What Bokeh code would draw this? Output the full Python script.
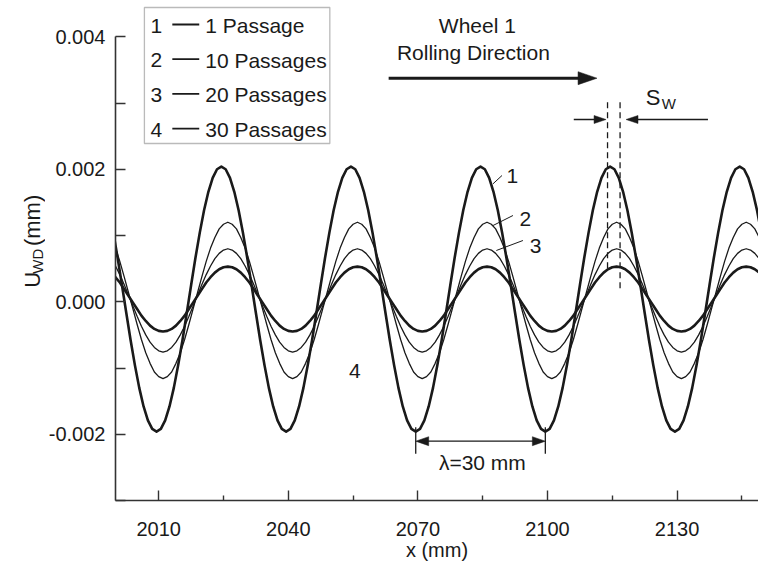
import math
from bokeh.plotting import figure
from bokeh.layouts import row
from bokeh.models import Range1d, FixedTicker, PrintfTickFormatter, Label, BoxAnnotation
from bokeh.core.properties import value
from bokeh.embed import file_html
from bokeh.resources import INLINE

# ---------------- data ----------------
x_ticks = [2010, 2040, 2070, 2100, 2130]
x_minor_ticks = [2025, 2055, 2085, 2115, 2145]
y_ticks = [-0.002, 0.0, 0.002, 0.004]
y_minor_ticks = [-0.003, -0.001, 0.001, 0.003]

period_mm = 30.0          # lambda = 30 mm
peak_x_1_passage = 2024.5  # x of a crest of curve 1
peak_x_later = 2026.0      # x of a crest of curves 2-4

# U_WD (mm) over one wavelength, 1 mm apart, starting at a crest
u_1_passage = [0.00204, 0.00200, 0.00187, 0.00166, 0.00138, 0.00104, 0.00066, 0.00025, -0.00017, -0.00058,
               -0.00096, -0.00130, -0.00158, -0.00179, -0.00192, -0.00196, -0.00192, -0.00179, -0.00158, -0.00130,
               -0.00096, -0.00058, -0.00017, 0.00025, 0.00066, 0.00104, 0.00138, 0.00166, 0.00187, 0.00200]
u_10_passages = [0.00120, 0.00117, 0.00110, 0.00097, 0.00081, 0.00061, 0.00038, 0.00014, -0.00010, -0.00034,
                 -0.00057, -0.00077, -0.00093, -0.00106, -0.00113, -0.00116, -0.00113, -0.00106, -0.00093, -0.00077,
                 -0.00057, -0.00034, -0.00010, 0.00014, 0.00038, 0.00061, 0.00081, 0.00097, 0.00110, 0.00117]
u_20_passages = [0.00080, 0.00078, 0.00073, 0.00065, 0.00054, 0.00041, 0.00026, 0.00010, -0.00006, -0.00022,
                 -0.00037, -0.00050, -0.00061, -0.00069, -0.00074, -0.00076, -0.00074, -0.00069, -0.00061, -0.00050,
                 -0.00037, -0.00022, -0.00006, 0.00010, 0.00026, 0.00041, 0.00054, 0.00065, 0.00073, 0.00078]
u_30_passages = [0.00053, 0.00052, 0.00049, 0.00044, 0.00037, 0.00029, 0.00019, 0.00009, -0.00001, -0.00011,
                 -0.00021, -0.00029, -0.00036, -0.00041, -0.00044, -0.00045, -0.00044, -0.00041, -0.00036, -0.00029,
                 -0.00021, -0.00011, -0.00001, 0.00009, 0.00019, 0.00029, 0.00037, 0.00044, 0.00049, 0.00052]

series_ids = ["1", "2", "3", "4"]
series_names = ["1 Passage", "10 Passages", "20 Passages", "30 Passages"]
series_values = [u_1_passage, u_10_passages, u_20_passages, u_30_passages]
series_peaks = [peak_x_1_passage, peak_x_later, peak_x_later, peak_x_later]
series_widths = [2.6, 1.3, 1.3, 2.6]

# ---------------- layout ----------------
W, H = 758, 564
LW = 45                                # width of the strip holding the y-axis title
FL, FR, FT, FB = 113, 758, 0, 500     # frame edges in page pixels
x_lo, x_hi = 2000.0, 2000.0 + (FR - FL) * period_mm / 130.0
y_lo = -0.003
y_hi = y_lo + (FB - FT) * 0.002 / 132.5

def X(px):
    return x_lo + (px - FL) * (x_hi - x_lo) / (FR - FL)

def Y(py):
    return y_hi - (py - FT) * (y_hi - y_lo) / (FB - FT)

def PX(x):
    return FL + (x - x_lo) * (FR - FL) / (x_hi - x_lo)

FONT = "Liberation Sans"
INK = "#1a1a1a"

p = figure(width=W - LW, height=H, x_range=Range1d(x_lo, x_hi), y_range=Range1d(y_lo, y_hi),
           output_backend="svg", toolbar_location=None,
           min_border_left=FL - LW, min_border_right=W - FR, min_border_top=FT, min_border_bottom=H - FB)
p.xgrid.visible = False
p.ygrid.visible = False
p.outline_line_color = None
p.background_fill_color = "white"
p.border_fill_color = "white"

for ax in (p.xaxis[0], p.yaxis[0]):
    ax.axis_line_width = 1.6
    ax.axis_line_color = "#333333"
    ax.major_tick_line_color = "#333333"
    ax.minor_tick_line_color = "#333333"
    ax.major_tick_line_width = 1.4
    ax.minor_tick_line_width = 1.4
    ax.major_tick_in = 10
    ax.major_tick_out = 0
    ax.minor_tick_out = 0
    ax.major_label_text_font = FONT
    ax.major_label_text_font_size = "20px"
    ax.major_label_text_color = INK

p.xaxis.ticker = FixedTicker(ticks=x_ticks, minor_ticks=x_minor_ticks)
p.xaxis.minor_tick_in = 5
p.xaxis.major_label_standoff = 21
p.xaxis.axis_label = "x (mm)"
p.xaxis.axis_label_text_font = FONT
p.xaxis.axis_label_text_font_size = "20px"
p.xaxis.axis_label_text_font_style = "normal"
p.xaxis.axis_label_text_color = INK
p.xaxis.axis_label_standoff = 0

p.yaxis.ticker = FixedTicker(ticks=y_ticks, minor_ticks=y_minor_ticks)
p.yaxis.formatter = PrintfTickFormatter(format="%.3f")
p.yaxis.bounds = (y_minor_ticks[0], y_ticks[-1])
p.yaxis.minor_tick_in = 10
p.yaxis.major_label_standoff = 10

# ---------------- curves ----------------
for vals, peak, lw in zip(series_values, series_peaks, series_widths):
    xs, ys = [], []
    for k in range(-2, 5):
        for i, v in enumerate(vals):
            xs.append(peak + k * period_mm + i)
            ys.append(v)
    p.line(xs, ys, line_color=INK, line_width=lw, line_join="round")

# ---------------- helpers for annotations ----------------
def lbl(px, py, text, size="21px", align="left", baseline="middle", angle=0.0):
    p.add_layout(Label(x=X(px), y=Y(py), text=text, text_font=FONT, text_font_size=size,
                       text_color=INK, text_align=align, text_baseline=baseline, angle=angle))

def seg(px0, py0, px1, py1, lw=1.3, dash="solid"):
    p.segment(x0=[X(px0)], y0=[Y(py0)], x1=[X(px1)], y1=[Y(py1)], line_color=INK,
              line_width=lw, line_dash=dash)

def head(tip_px, tip_py, direction, length, half):
    bx = tip_px - direction * length
    p.patch([X(tip_px), X(bx), X(bx)], [Y(tip_py), Y(tip_py - half), Y(tip_py + half)],
            fill_color=INK, line_color=INK, line_width=0.5)

# ---------------- legend ----------------
p.add_layout(BoxAnnotation(left=X(142), right=X(328), top=Y(7), bottom=Y(143),
                           fill_alpha=0, line_color=INK, line_width=1.3))
for i, (sid, name) in enumerate(zip(series_ids, series_names)):
    ry = 24 + 34.7 * i
    lbl(148, ry + 1, sid)
    seg(170, ry, 197, ry, lw=1.8)
    lbl(203, ry + 1, name)

# ---------------- rolling direction ----------------
lbl(476, 25, "Wheel 1", align="center")
lbl(472, 52, "Rolling Direction", align="center")
seg(387, 77.7, 580, 77.7, lw=3)
head(596, 77.7, 1, 19, 6.5)

# ---------------- S_W ----------------
for xd, yend in ((2113.9, 270), (2116.8, 290)):
    seg(PX(xd), 101.7, PX(xd), yend, lw=1.3, dash="6 4")
seg(572.7, 119, 596, 119, lw=1.3)
head(PX(2113.9) - 1.5, 119, 1, 12, 4)
seg(707.3, 119, 636, 119, lw=1.3)
head(PX(2116.8) + 6, 119, -1, 12, 4)
lbl(645, 97, "S", size="22px")
lbl(661, 103, "W", size="15px")

# ---------------- lambda ----------------
tr1, tr2 = 2069.5, 2099.5
seg(PX(tr1), 426.7, PX(tr1), 453.3, lw=1.3)
seg(PX(tr2), 426.7, PX(tr2), 453.3, lw=1.3)
seg(PX(tr1) + 10, 440.7, PX(tr2) - 10, 440.7, lw=1.3)
head(PX(tr1), 440.7, -1, 13, 4.5)
head(PX(tr2), 440.7, 1, 13, 4.5)
lbl(481, 462, "\u03bb=30 mm", align="center")

# ---------------- curve labels ----------------
lbl(511, 175, "1", align="center")
seg(500.7, 175, 491.7, 183.3, lw=1)
lbl(524, 218, "2", align="center")
seg(511.7, 215, 491.7, 225, lw=1)
lbl(534.5, 245, "3", align="center")
seg(521.7, 240, 495, 250, lw=1)
lbl(353, 370, "4", align="center")

# ---------------- y-axis title strip: U_WD (mm) ----------------
q = figure(width=LW, height=H, x_range=Range1d(0, LW), y_range=Range1d(0, H),
           output_backend="svg", toolbar_location=None, x_axis_type=None, y_axis_type=None,
           min_border=0, min_border_left=0, min_border_right=0, min_border_top=0, min_border_bottom=0)
q.xgrid.visible = False
q.ygrid.visible = False
q.outline_line_color = None
q.background_fill_color = "white"
q.border_fill_color = "white"

def qtext(px, py, text, size):
    q.text(x=[px], y=[H - py], text=[text], angle=math.pi / 2, text_font=value(FONT),
           text_font_size=value(size), text_color=INK, text_align="left", text_baseline="alphabetic")

ystart = 324
qtext(32, ystart, "U", "22px")
qtext(37, ystart - 15.9, "WD", "15px")
qtext(32, ystart - 15.9 - 25.0 - 6.1, "(mm)", "22px")

layout = row(q, p, spacing=0)
open("out.html", "w").write(file_html(layout, INLINE))
